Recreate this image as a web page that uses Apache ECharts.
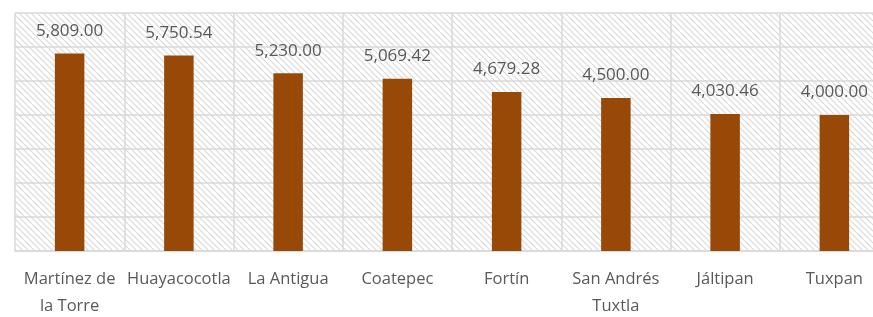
<!DOCTYPE html>
<html>
<head>
<meta charset="utf-8">
<script src="https://cdn.jsdelivr.net/npm/echarts@6/dist/echarts.min.js"></script>
<style>
html,body{margin:0;padding:0;background:#fff;}
#c{width:873px;height:317px;}
</style>
</head>
<body>
<div id="c"></div>
<script>
const categories = ["Martínez de la Torre", "Huayacocotla", "La Antigua", "Coatepec", "Fortín", "San Andrés Tuxtla", "Jáltipan", "Tuxpan"];
const tickLabels = ["Martínez de\nla Torre", "Huayacocotla", "La Antigua", "Coatepec", "Fortín", "San Andrés\nTuxtla", "Jáltipan", "Tuxpan"];
const values = [5809.00, 5750.54, 5230.00, 5069.42, 4679.28, 4500.00, 4030.46, 4000.00];

function hatch() {
  const p = 6;
  const c = document.createElement('canvas');
  c.width = p; c.height = p;
  const g = c.getContext('2d');
  g.fillStyle = '#ffffff';
  g.fillRect(0, 0, p, p);
  g.strokeStyle = '#d9d9d9';
  g.lineWidth = 1.1;
  g.beginPath();
  g.moveTo(-1, -1); g.lineTo(p + 1, p + 1);
  g.moveTo(-1, p - 1); g.lineTo(1, p + 1);
  g.moveTo(p - 1, -1); g.lineTo(p + 1, 1);
  g.stroke();
  return c;
}

const chart = echarts.init(document.getElementById('c'), null, {renderer: 'canvas'});
const grey = '#595959';
const lineC = '#d9d9d9';
chart.setOption({
  animation: false,
  backgroundColor: '#ffffff',
  grid: {
    left: 15, top: 13, width: 874, height: 238,
    show: true,
    containLabel: false,
    outerBoundsMode: 'none',
    backgroundColor: {image: hatch(), repeat: 'repeat'},
    borderWidth: 0
  },
  xAxis: {
    type: 'category',
    data: categories,
    axisLine: {show: true, lineStyle: {color: lineC, width: 1.5}},
    axisTick: {show: false},
    splitLine: {show: true, interval: 0, lineStyle: {color: lineC, width: 1.5}},
    axisLabel: {
      interval: 0,
      color: grey,
      fontFamily: 'Open Sans',
      fontSize: 16.5,
      lineHeight: 27,
      margin: 15,
      formatter: (v, i) => tickLabels[i]
    }
  },
  yAxis: {
    type: 'value',
    min: 0, max: 7000, interval: 1000,
    axisLine: {show: false},
    axisTick: {show: false},
    axisLabel: {show: false},
    splitLine: {show: true, lineStyle: {color: lineC, width: 1.5}}
  },
  series: [{
    type: 'bar',
    data: values,
    barWidth: '27%',
    itemStyle: {color: '#984807'},
    label: {
      show: true,
      position: 'top',
      distance: 14,
      color: grey,
      fontFamily: 'Open Sans',
      fontSize: 17,
      formatter: p => p.value.toLocaleString('en-US', {minimumFractionDigits: 2, maximumFractionDigits: 2})
    }
  }]
});
</script>
</body>
</html>
